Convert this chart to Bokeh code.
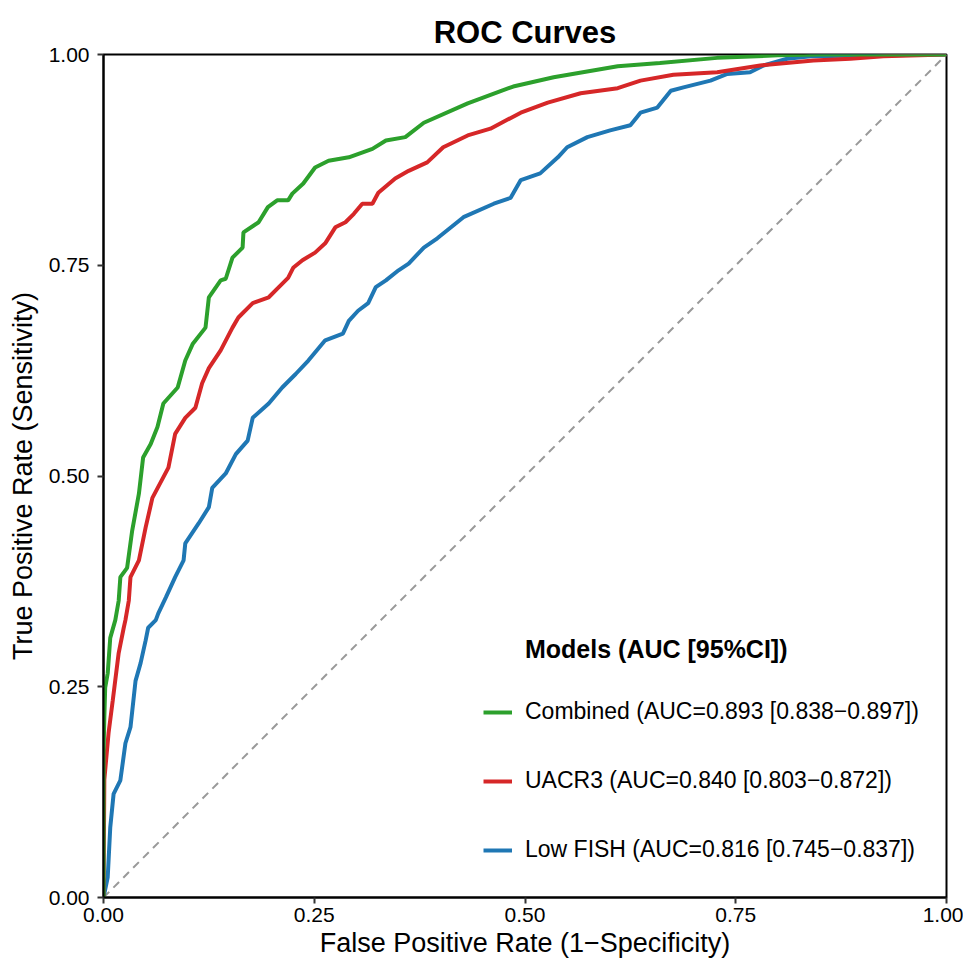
from bokeh.plotting import figure
from bokeh.models import Legend, LegendItem, Label, FixedTicker, NumeralTickFormatter, Range1d
from bokeh.embed import file_html
from bokeh.resources import INLINE

# ---- data ----
fpr_combined = [0.0, 0.0, 0.001, 0.002, 0.005, 0.008, 0.014, 0.018, 0.020, 0.028, 0.034, 0.042, 0.047,
                0.056, 0.064, 0.071, 0.088, 0.097, 0.106, 0.121, 0.125, 0.139, 0.145, 0.153, 0.165, 0.166,
                0.184, 0.195, 0.206, 0.219, 0.224, 0.237, 0.251, 0.267, 0.291, 0.319, 0.335, 0.358, 0.380,
                0.432, 0.486, 0.534, 0.610, 0.660, 0.728, 0.800, 0.850, 1.0]
tpr_combined = [0.0, 0.17, 0.214, 0.249, 0.266, 0.308, 0.329, 0.352, 0.380, 0.391, 0.435, 0.479, 0.522,
                0.538, 0.558, 0.586, 0.605, 0.637, 0.657, 0.676, 0.712, 0.732, 0.734, 0.759, 0.771, 0.789,
                0.801, 0.819, 0.827, 0.827, 0.835, 0.847, 0.866, 0.874, 0.878, 0.888, 0.898, 0.902, 0.919,
                0.942, 0.962, 0.973, 0.986, 0.990, 0.996, 0.999, 1.0, 1.0]

fpr_uacr3 = [0.0, 0.001, 0.006, 0.011, 0.013, 0.018, 0.024, 0.026, 0.030, 0.032, 0.042, 0.050, 0.058,
             0.077, 0.085, 0.097, 0.109, 0.117, 0.125, 0.139, 0.153, 0.160, 0.177, 0.196, 0.208, 0.219,
             0.225, 0.236, 0.251, 0.263, 0.275, 0.287, 0.297, 0.307, 0.319, 0.326, 0.346, 0.362, 0.384,
             0.403, 0.432, 0.459, 0.495, 0.527, 0.566, 0.610, 0.637, 0.676, 0.728, 0.779, 0.842, 0.886,
             0.925, 1.0]
tpr_uacr3 = [0.0, 0.14, 0.195, 0.234, 0.250, 0.290, 0.320, 0.329, 0.352, 0.380, 0.400, 0.439, 0.474,
             0.510, 0.550, 0.569, 0.581, 0.610, 0.628, 0.649, 0.676, 0.688, 0.705, 0.712, 0.724, 0.735,
             0.747, 0.756, 0.765, 0.776, 0.795, 0.801, 0.811, 0.823, 0.823, 0.836, 0.853, 0.862, 0.872,
             0.890, 0.904, 0.912, 0.931, 0.943, 0.954, 0.960, 0.969, 0.976, 0.979, 0.987, 0.993, 0.995,
             0.998, 1.0]

fpr_lowfish = [0.0, 0.005, 0.008, 0.012, 0.020, 0.026, 0.032, 0.038, 0.044, 0.050, 0.053, 0.062, 0.065,
               0.074, 0.085, 0.095, 0.097, 0.113, 0.125, 0.129, 0.145, 0.157, 0.171, 0.177, 0.196, 0.212,
               0.228, 0.243, 0.263, 0.284, 0.291, 0.302, 0.314, 0.323, 0.335, 0.350, 0.362, 0.380, 0.396,
               0.427, 0.463, 0.483, 0.495, 0.518, 0.539, 0.550, 0.574, 0.601, 0.625, 0.637, 0.657, 0.673,
               0.688, 0.720, 0.740, 0.767, 0.783, 0.811, 0.839, 1.0]
tpr_lowfish = [0.0, 0.024, 0.083, 0.123, 0.139, 0.183, 0.202, 0.257, 0.278, 0.305, 0.320, 0.329, 0.337,
               0.356, 0.380, 0.400, 0.420, 0.444, 0.463, 0.486, 0.503, 0.526, 0.542, 0.569, 0.586, 0.605,
               0.621, 0.637, 0.661, 0.669, 0.684, 0.696, 0.705, 0.724, 0.732, 0.744, 0.752, 0.771, 0.782,
               0.807, 0.823, 0.830, 0.851, 0.859, 0.878, 0.890, 0.902, 0.910, 0.916, 0.931, 0.937, 0.957,
               0.961, 0.969, 0.977, 0.979, 0.987, 0.995, 0.998, 1.0]

diag = [0.0, 1.0]

model_names = ["Combined (AUC=0.893 [0.838\u22120.897])",
               "UACR3 (AUC=0.840 [0.803\u22120.872])",
               "Low FISH (AUC=0.816 [0.745\u22120.837])"]
colors = ["#2ca02c", "#d62728", "#1f77b4"]
ticks = [0.0, 0.25, 0.5, 0.75, 1.0]
legend_title = "Models (AUC [95%CI])"
chart_title = "ROC Curves"

FONT = "Liberation Sans"

p = figure(width=963, height=965, output_backend="svg", toolbar_location=None,
           x_range=Range1d(0, 1), y_range=Range1d(0, 1),
           title=chart_title,
           min_border_left=103, min_border_right=17, min_border_top=54, min_border_bottom=68)

p.title.align = "center"
p.title.vertical_align = "top"
p.title.text_font = FONT
p.title.text_font_size = "31px"
p.title.text_font_style = "bold"
p.title.text_color = "black"
p.title.text_line_height = 0.6
p.title.standoff = 6

p.grid.visible = False
p.outline_line_color = "black"
p.outline_line_width = 2
p.background_fill_color = "white"

for ax in (p.xaxis[0], p.yaxis[0]):
    ax.ticker = FixedTicker(ticks=ticks)
    ax.formatter = NumeralTickFormatter(format="0.00")
    ax.axis_line_color = "black"
    ax.axis_line_width = 2
    ax.major_tick_line_color = "#333333"
    ax.major_tick_line_width = 2
    ax.major_tick_out = 6
    ax.major_tick_in = 0
    ax.minor_tick_line_color = None
    ax.major_label_text_font = FONT
    ax.major_label_text_font_size = "21px"
    ax.major_label_text_color = "black"
    ax.axis_label_text_font = FONT
    ax.axis_label_text_font_size = "27px"
    ax.axis_label_text_font_style = "normal"
    ax.axis_label_text_color = "black"

p.xaxis.axis_label = "False Positive Rate (1\u2212Specificity)"
p.yaxis.axis_label = "True Positive Rate (Sensitivity)"
p.xaxis.major_label_standoff = 4
p.xaxis.axis_label_standoff = 3
p.yaxis.major_label_standoff = 8
p.yaxis.axis_label_standoff = 8

p.line(diag, diag, line_color="#999999", line_width=2, line_dash="8 6")

r_blue = p.line(fpr_lowfish, tpr_lowfish, line_color=colors[2], line_width=4)
r_red = p.line(fpr_uacr3, tpr_uacr3, line_color=colors[1], line_width=4)
r_green = p.line(fpr_combined, tpr_combined, line_color=colors[0], line_width=4)

legend = Legend(items=[LegendItem(label=model_names[0], renderers=[r_green]),
                       LegendItem(label=model_names[1], renderers=[r_red]),
                       LegendItem(label=model_names[2], renderers=[r_blue])],
                location=(380, 34), orientation="vertical",
                padding=0, margin=0, spacing=42,
                glyph_width=29, glyph_height=26, label_height=26,
                label_standoff=13,
                label_text_font=FONT, label_text_font_size="23px", label_text_color="black",
                border_line_color=None, background_fill_alpha=0)
p.add_layout(legend, "center")

p.add_layout(Label(x=0.5, y=0.295, text=legend_title, text_font=FONT, text_font_size="25px",
                   text_font_style="bold", text_color="black", text_baseline="middle"))

open("out.html", "w").write(file_html(p, INLINE))
